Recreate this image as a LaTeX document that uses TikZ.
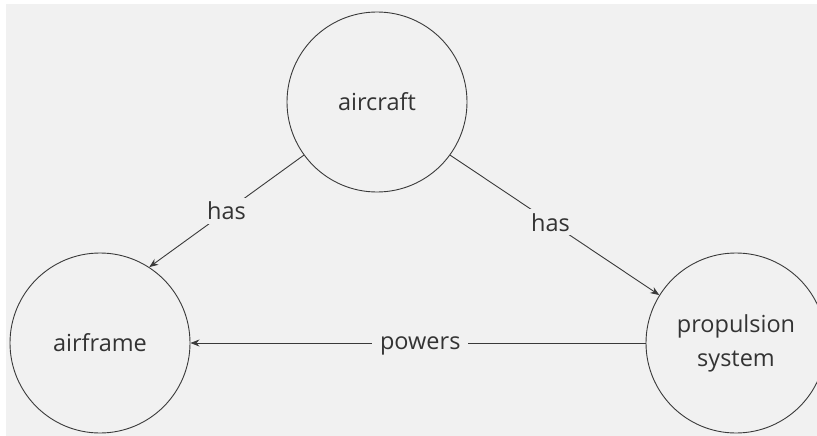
\documentclass[tikz,border=0pt]{standalone}
\usepackage{fontspec}
\setmainfont{Open Sans}
\usetikzlibrary{arrows.meta}
\definecolor{bg}{HTML}{F1F1F1}
\definecolor{ink}{HTML}{3A3A3A}
\definecolor{txt}{HTML}{333333}
\tikzset{
  concept/.style={circle, draw=ink, line width=0.9pt, minimum size=180pt, inner sep=0pt, text=txt, font=\fontsize{23.5}{34}\selectfont, align=center},
  rel/.style={draw=ink, line width=0.9pt, -{Stealth[length=9pt,width=7pt]}},
  lbl/.style={fill=bg, text=txt, font=\fontsize{23.5}{28}\selectfont, inner xsep=8pt, inner ysep=4pt}
}
\begin{document}
\begin{tikzpicture}[x=1pt,y=-1pt]
\useasboundingbox (0,0) rectangle (817,436);
\clip (0,0) rectangle (817,436);
\fill[white] (0,0) rectangle (817,436);
\fill[bg] (6,4) rectangle (817,436);
\node[concept] (aircraft) at (377,102) {aircraft};
\node[concept] (airframe) at (100,343) {airframe};
\node[concept] (prop) at (736,343) {propulsion\\system};
\draw[rel] (aircraft.216) -- node[lbl, pos=0.5] {has} (airframe.57);
\draw[rel] (aircraft.-36) -- node[lbl, pos=0.48] {has} (prop.148);
\draw[rel] (prop.west) -- node[lbl, pos=0.495, yshift=-3pt] {powers} (airframe.east);
\end{tikzpicture}
\end{document}
